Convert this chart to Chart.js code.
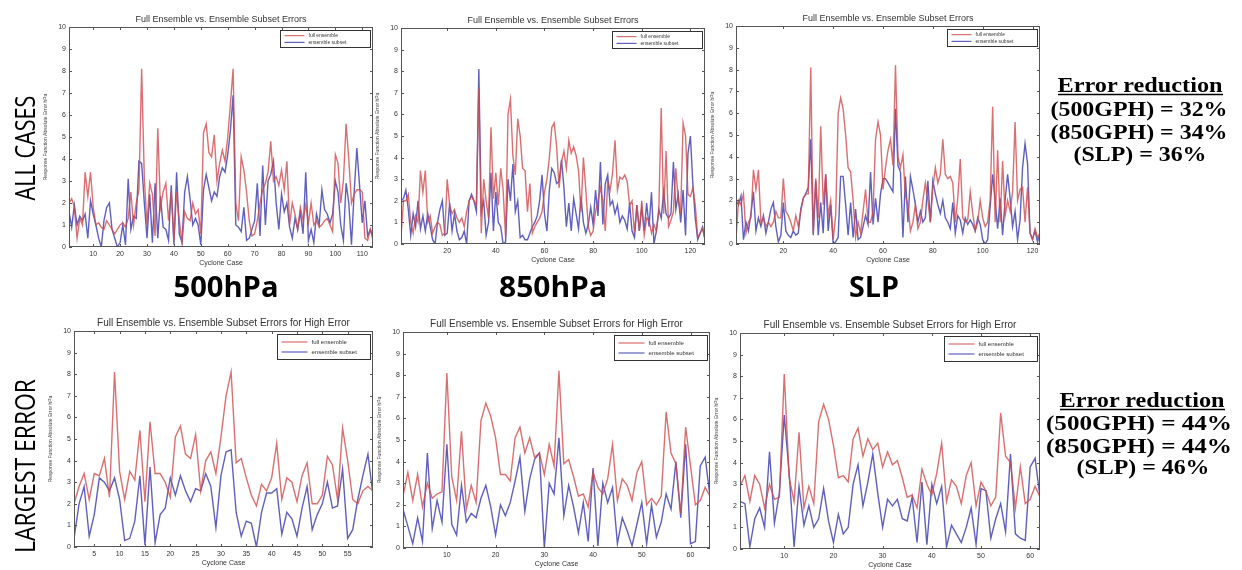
<!DOCTYPE html>
<html>
<head>
<meta charset="utf-8">
<script src="https://cdn.jsdelivr.net/npm/chart.js@4.4.1/dist/chart.umd.min.js"></script>
<style>
body { margin: 0; background: #fff; width: 1242px; height: 570px; overflow: hidden; position: relative; }
.box { position: absolute; }
svg { position: absolute; left: 0; top: 0; }
</style>
</head>
<body>
<div class="box" id="b0"><canvas id="c0"></canvas></div>
<div class="box" id="b1"><canvas id="c1"></canvas></div>
<div class="box" id="b2"><canvas id="c2"></canvas></div>
<div class="box" id="b3"><canvas id="c3"></canvas></div>
<div class="box" id="b4"><canvas id="c4"></canvas></div>
<div class="box" id="b5"><canvas id="c5"></canvas></div>

<svg width="1242" height="570">
  <g font-family="'Open Sans', sans-serif" fill="#000">
    <text transform="translate(35,148) rotate(-90)" text-anchor="middle" font-size="28" textLength="105" lengthAdjust="spacingAndGlyphs">ALL CASES</text>
    <text transform="translate(35,466) rotate(-90)" text-anchor="middle" font-size="28" textLength="174" lengthAdjust="spacingAndGlyphs">LARGEST ERROR</text>
    <text x="226" y="297" text-anchor="middle" font-size="29" font-weight="bold" textLength="105" lengthAdjust="spacingAndGlyphs">500hPa</text>
    <text x="553" y="297" text-anchor="middle" font-size="29" font-weight="bold" textLength="108" lengthAdjust="spacingAndGlyphs">850hPa</text>
    <text x="874" y="297" text-anchor="middle" font-size="29" font-weight="bold" textLength="50" lengthAdjust="spacingAndGlyphs">SLP</text>
  </g>
  <g font-family="'Liberation Serif', 'Times New Roman', serif" font-weight="bold" font-size="20" fill="#000" text-anchor="middle">
    <text x="1140" y="92" textLength="165" lengthAdjust="spacingAndGlyphs">Error reduction</text>
    <line x1="1058" y1="94.5" x2="1223" y2="94.5" stroke="#000" stroke-width="1.5"/>
    <text x="1139" y="116" textLength="177" lengthAdjust="spacingAndGlyphs">(500GPH) = 32%</text>
    <text x="1139" y="139" textLength="177" lengthAdjust="spacingAndGlyphs">(850GPH) = 34%</text>
    <text x="1140" y="161" textLength="133" lengthAdjust="spacingAndGlyphs">(SLP) = 36%</text>
    <text x="1142" y="407" textLength="165" lengthAdjust="spacingAndGlyphs">Error reduction</text>
    <line x1="1060" y1="409.5" x2="1225" y2="409.5" stroke="#000" stroke-width="1.5"/>
    <text x="1139" y="430" textLength="186" lengthAdjust="spacingAndGlyphs">(500GPH) = 44%</text>
    <text x="1139" y="453" textLength="186" lengthAdjust="spacingAndGlyphs">(850GPH) = 44%</text>
    <text x="1143" y="474" textLength="133" lengthAdjust="spacingAndGlyphs">(SLP) = 46%</text>
  </g>
</svg>

<script>
// x tick labels
const ticksTopLeft = [10, 20, 30, 40, 50, 60, 70, 80, 90, 100, 110];
const ticksTopMid = [20, 40, 60, 80, 100, 120];
const ticksTopRight = [20, 40, 60, 80, 100, 120];
const ticksBotLeft = [5, 10, 15, 20, 25, 30, 35, 40, 45, 50, 55];
const ticksBotMid = [10, 20, 30, 40, 50, 60];
const ticksBotRight = [10, 20, 30, 40, 50, 60];

// all cases, 500 hPa
const full500 = [2.0, 2.2, 1.8, 0.4, 1.3, 1.0, 3.4, 2.3, 3.4, 1.8,
  1.0, 1.1, 0.9, 0.8, 1.2, 1.0, 0.8, 0.6, 0.8, 1.0,
  1.1, 0.9, 1.3, 2.5, 1.0, 2.0, 2.6, 8.1, 3.1, 1.0,
  2.9, 2.4, 0.5, 5.4, 1.8, 2.5, 2.9, 1.2, 2.5, 0.3,
  2.5, 1.2, 0.2, 1.6, 1.3, 1.2, 2.0, 1.5, 1.7, 0.6,
  5.2, 5.6, 4.3, 4.1, 5.1, 3.0, 3.8, 4.4, 3.9, 5.0,
  6.5, 8.1, 2.0, 1.2, 4.1, 3.5, 2.5, 1.2, 0.5, 0.6,
  1.2, 2.0, 2.6, 2.9, 3.4, 4.8, 3.0, 3.2, 2.8, 3.5,
  2.6, 3.9, 1.0, 2.0, 1.5, 0.8, 1.8, 1.2, 1.9, 1.1,
  2.0, 1.0, 1.2, 0.9, 1.0, 1.2, 1.3, 1.0, 0.7, 4.2,
  3.8, 2.0, 3.0, 5.6, 4.0, 2.0, 2.4, 2.6, 2.6, 2.5,
  0.4, 0.3, 0.8, 0.3];
const sub500 = [1.6, 0.9, 1.9, 1.0, 1.4, 1.2, 1.5, 0.4, 2.1, 1.5,
  1.0, 0.4, 0.0, 1.2, 1.8, 2.0, 0.8, 0.4, 0.0, 0.2,
  1.0, 0.1, 3.1, 0.8, 1.4, 1.3, 3.9, 3.8, 2.0, 0.4,
  2.4, 0.2, 2.9, 0.4, 2.3, 0.9, 0.8, 0.3, 2.8, 0.1,
  3.4, 0.6, 0.2, 2.5, 3.2, 2.2, 1.0, 1.3, 1.0, 0.1,
  2.6, 3.3, 2.7, 2.1, 2.5, 2.3, 3.2, 3.6, 3.4, 4.2,
  5.3, 6.9, 1.0, 0.9, 0.7, 1.8, 0.3, 0.4, 0.8, 1.2,
  2.9, 0.5, 3.7, 1.0, 3.0, 3.3, 3.9, 2.0, 0.8, 2.4,
  1.6, 2.0, 0.9, 0.4, 1.3, 0.8, 1.6, 0.6, 3.4, 0.3,
  0.8, 0.2, 1.5, 1.0, 2.6, 1.7, 1.5, 1.1, 1.5, 3.0,
  2.5, 1.0, 0.3, 2.9, 2.0, 0.1, 2.5, 4.5, 2.8, 1.1,
  2.1, 0.5, 0.8, 0.5];

// all cases, 850 hPa
const full850 = [0.3, 2.0, 2.0, 2.3, 1.0, 0.5, 1.3, 1.0, 3.4, 2.4,
  3.4, 1.0, 1.3, 0.5, 0.8, 1.0, 0.9, 0.4, 0.5, 3.0,
  1.8, 1.4, 1.6, 1.2, 1.0, 1.2, 0.8, 1.5, 2.0, 2.2,
  2.0, 1.8, 7.2, 0.5, 3.0, 2.0, 1.2, 5.4, 2.1, 3.3,
  1.8, 3.5, 2.5, 0.3, 6.0, 6.7, 4.1, 3.2, 5.8, 5.0,
  3.5, 3.4, 1.5, 2.8, 0.5, 0.8, 1.0, 1.2, 1.5, 2.4,
  3.0, 4.0, 5.4, 5.6, 4.5, 2.6, 3.8, 4.3, 3.5, 4.8,
  4.2, 4.5, 4.1, 3.4, 1.5, 4.0, 2.5, 0.8, 0.4, 0.6,
  1.5, 2.0, 2.6, 2.0, 0.6, 2.9, 2.5, 3.3, 4.8, 2.5,
  3.1, 3.0, 3.2, 2.9, 1.8, 2.0, 0.5, 1.8, 0.6, 2.0,
  0.4, 1.2, 1.1, 0.5, 0.9, 0.6, 1.5, 6.3, 1.4, 4.3,
  0.8, 1.1, 1.5, 3.5, 2.0, 1.5, 5.6, 5.0, 2.3, 2.2,
  2.6, 1.8, 0.3, 0.5, 0.7, 0.2];
const sub850 = [2.0, 2.1, 2.5, 1.6, 0.4, 1.4, 0.8, 2.0, 0.7, 1.3,
  0.6, 1.4, 0.8, 0.2, 0.0, 1.0, 1.6, 2.0, 0.4, 0.5,
  1.9, 0.6, 1.4, 0.6, 0.2, 0.3, 0.6, 0.0, 2.0, 2.3,
  2.0, 1.5, 8.1, 1.5, 2.0, 0.4, 1.0, 3.3, 0.6, 2.4,
  1.0, 0.8, 0.0, 0.1, 3.0, 2.0, 3.7, 1.5, 2.0, 0.3,
  0.4, 0.2, 0.2, 0.5, 0.8, 1.0, 1.3, 2.0, 3.2, 1.4,
  0.6, 2.5, 3.5, 3.3, 2.8, 2.9, 3.9, 2.6, 0.8, 1.9,
  0.6, 2.1, 1.4, 0.7, 2.2, 1.0, 0.5, 0.9, 1.7, 0.9,
  2.5, 1.3, 3.8, 0.9, 2.8, 3.2, 1.8, 2.0, 1.4, 1.8,
  1.0, 1.3, 1.1, 0.7, 1.9, 0.6, 0.3, 1.8, 0.6, 1.7,
  0.6, 1.9, 0.8, 2.4, 0.0, 0.6, 1.6, 1.2, 2.4, 1.4,
  1.2, 1.4, 3.8, 1.6, 2.3, 1.0, 2.5, 0.4, 4.2, 5.0,
  2.8, 1.2, 0.2, 0.5, 0.8, 0.2];

// all cases, SLP
const fullSlp = [0.2, 2.0, 1.8, 2.3, 0.5, 1.0, 1.2, 3.4, 2.5, 3.4,
  1.0, 1.2, 0.8, 1.0, 0.8, 1.0, 1.5, 1.2, 1.2, 3.0,
  1.5, 1.3, 1.0, 0.6, 1.3, 0.8, 1.5, 2.1, 2.3, 2.3,
  8.1, 0.5, 3.0, 1.2, 5.4, 1.8, 3.2, 1.3, 2.0, 0.2,
  1.3, 6.0, 6.7, 6.2, 5.0, 3.5, 3.3, 2.0, 0.3, 1.0,
  0.5, 1.5, 2.5, 1.0, 1.0, 1.5, 4.8, 5.6, 5.0, 2.5,
  3.5, 4.3, 4.8, 3.6, 8.2, 4.0, 3.5, 4.1, 2.2, 1.8,
  0.6, 1.0, 1.8, 0.7, 1.0, 2.0, 2.8, 2.0, 1.0, 2.6,
  3.5, 2.8, 3.2, 4.8, 3.2, 3.0, 3.1, 2.8, 1.0, 2.1,
  3.9, 1.2, 1.0, 1.1, 2.4, 1.4, 0.6, 1.0, 2.0, 1.2,
  0.8, 1.0, 2.0, 6.3, 1.0, 4.3, 1.0, 3.8, 1.3, 2.0,
  1.5, 2.4, 5.6, 2.0, 2.5, 2.6, 1.0, 2.6, 0.5, 0.2,
  0.7, 0.3, 0.5];
const subSlp = [2.0, 1.8, 2.2, 0.2, 1.0, 0.6, 1.4, 2.4, 0.6, 1.2,
  0.8, 1.3, 0.5, 1.0, 1.6, 1.9, 0.8, 0.1, 0.4, 1.9,
  0.6, 0.4, 0.3, 0.6, 0.4, 0.5, 1.6, 2.1, 2.3, 2.6,
  4.8, 0.4, 2.9, 0.4, 1.9, 0.5, 3.2, 0.6, 1.8, 0.0,
  0.1, 0.3, 3.1, 3.1, 1.8, 0.4, 1.9, 0.3, 1.6, 0.2,
  0.3, 0.8, 1.3, 0.9, 3.3, 0.9, 2.1, 1.0, 2.3, 3.0,
  3.0, 2.8, 2.6, 2.4, 6.2, 3.6, 3.3, 0.3, 3.1, 1.0,
  3.1, 2.5, 1.8, 1.0, 1.5, 1.0, 1.2, 2.9, 1.0, 2.9,
  2.3, 1.8, 1.4, 2.0, 1.2, 1.0, 0.7, 1.9, 0.5, 1.3,
  1.1, 0.5, 1.2, 0.9, 1.1, 0.9, 0.6, 1.2, 0.9, 0.2,
  0.0, 0.2, 1.7, 3.2, 2.0, 0.7, 2.1, 0.4, 2.0, 3.2,
  2.1, 0.8, 1.5, 0.2, 1.1, 3.5, 4.6, 3.7, 0.5, 0.2,
  0.6, 0.1, 0.5];

// largest error, 500 hPa
const fullHi500 = [2.0, 2.8, 3.4, 2.2, 3.4, 3.3, 4.1, 2.3, 8.1, 3.5,
  2.2, 3.5, 3.1, 5.4, 2.1, 5.8, 3.4, 3.4, 3.0, 2.3,
  5.1, 5.6, 4.3, 4.1, 5.2, 2.6, 4.0, 4.4, 3.4, 5.1,
  7.0, 8.1, 3.9, 4.1, 3.2, 2.4, 1.9, 2.9, 2.6, 3.2,
  4.8, 2.2, 3.2, 3.0, 2.1, 3.3, 3.9, 2.0, 2.0, 2.4,
  4.2, 3.8, 2.2, 5.5, 4.0, 2.2, 2.0, 2.6, 2.8, 2.6];
const subHi500 = [0.4, 2.0, 2.8, 0.5, 1.5, 3.2, 3.0, 2.6, 3.2, 2.2,
  0.3, 0.4, 1.2, 3.3, 0.1, 3.7, 0.2, 1.5, 1.8, 3.2,
  2.4, 3.3, 2.6, 2.1, 2.7, 2.6, 3.4, 2.8, 0.9, 3.3,
  4.4, 4.5, 1.6, 0.5, 1.2, 1.1, 0.0, 1.6, 2.5, 2.5,
  2.7, 0.6, 1.6, 1.3, 0.5, 1.8, 2.8, 0.8, 1.5, 2.0,
  3.0, 1.8, 1.9, 3.6, 0.4, 0.8, 2.2, 3.3, 4.3, 2.4];

// largest error, 850 hPa
const fullHi850 = [2.4, 3.5, 2.2, 3.4, 1.9, 3.0, 2.3, 2.5, 2.6, 8.1,
  3.3, 2.2, 5.4, 1.8, 2.9, 2.1, 5.9, 6.7, 6.1, 5.1,
  3.4, 3.4, 3.1, 5.1, 5.6, 4.4, 5.1, 4.2, 4.4, 3.4,
  4.8, 3.8, 8.2, 3.9, 4.1, 3.3, 2.4, 2.5, 1.9, 3.5,
  2.8, 2.5, 3.2, 4.8, 2.2, 3.2, 2.9, 2.2, 3.5, 4.0,
  2.0, 2.3, 2.0, 2.4, 6.3, 4.4, 3.9, 1.6, 5.6, 3.8,
  2.0, 2.2, 2.8, 2.4];
const subHi850 = [1.8, 1.0, 0.2, 1.4, 0.3, 4.4, 0.9, 2.2, 1.2, 4.8,
  1.1, 0.6, 2.9, 1.2, 1.6, 1.4, 2.3, 2.9, 1.9, 0.6,
  2.0, 1.5, 2.1, 3.1, 4.2, 1.7, 3.2, 4.1, 4.4, 0.0,
  3.0, 2.5, 5.1, 1.5, 2.9, 1.9, 0.7, 2.1, 0.3, 3.7,
  0.1, 3.0, 2.1, 2.8, 0.2, 1.4, 0.8, 0.1, 1.1, 2.1,
  0.2, 2.0, 0.5, 1.2, 2.5, 1.8, 4.0, 1.4, 4.8, 0.2,
  0.3, 3.8, 4.2, 2.4];

// largest error, SLP
const fullHiSlp = [2.9, 3.4, 2.2, 3.4, 3.0, 1.9, 3.0, 2.3, 2.4, 8.1,
  3.3, 2.2, 5.4, 1.9, 2.9, 2.1, 5.9, 6.7, 6.0, 4.8,
  3.3, 3.4, 3.1, 5.1, 5.6, 4.3, 5.1, 4.6, 4.9, 3.8,
  4.5, 3.9, 4.1, 3.3, 2.4, 2.5, 1.9, 3.7, 3.0, 2.5,
  3.5, 4.9, 2.2, 3.2, 2.9, 2.1, 3.4, 4.0, 2.0, 3.1,
  2.7, 2.0, 2.4, 6.3, 4.3, 4.0, 1.9, 3.8, 2.1, 2.3,
  2.9, 2.4];
const subHiSlp = [2.2, 2.1, 0.1, 1.4, 1.9, 1.0, 4.5, 1.2, 2.6, 6.2,
  3.5, 0.1, 2.9, 1.1, 2.0, 1.0, 1.4, 2.8, 1.3, 0.3,
  1.6, 0.7, 1.0, 3.0, 3.9, 2.0, 3.1, 4.4, 2.6, 1.0,
  2.3, 2.0, 2.3, 1.4, 1.3, 2.4, 0.3, 3.1, 0.2, 3.0,
  2.1, 2.9, 0.1, 1.1, 0.7, 0.3, 1.0, 1.9, 0.2, 2.8,
  2.7, 0.5, 1.4, 2.1, 0.8, 4.4, 0.7, 0.5, 0.4, 3.8,
  4.2, 2.4];

const titleAll = 'Full Ensemble vs. Ensemble Subset Errors';
const titleHigh = 'Full Ensemble vs. Ensemble Subset Errors for High Error';
const yLabel = 'Response Function Absolute Error hPa';
const xLabel = 'Cyclone Case';

const YW = 26, TH = 16, RP = 6, XH = 20;

// draws the matlab-like box, inner ticks, title and legend
const matlabFrame = {
  id: 'matlabFrame',
  afterDatasetsDraw(chart, args, o) {
    const ctx = chart.ctx;
    const a = chart.chartArea;
    const x = chart.scales.x, y = chart.scales.y;
    ctx.save();
    ctx.strokeStyle = '#555';
    ctx.lineWidth = 1;
    ctx.strokeRect(Math.round(a.left) + 0.5, Math.round(a.top) + 0.5,
      Math.round(a.right - a.left) - 1, Math.round(a.bottom - a.top) - 1);
    ctx.beginPath();
    x.ticks.forEach(t => {
      const px = Math.round(x.getPixelForValue(t.value)) + 0.5;
      ctx.moveTo(px, a.bottom); ctx.lineTo(px, a.bottom - 3);
      ctx.moveTo(px, a.top); ctx.lineTo(px, a.top + 3);
    });
    y.ticks.forEach(t => {
      const py = Math.round(y.getPixelForValue(t.value)) + 0.5;
      ctx.moveTo(a.left, py); ctx.lineTo(a.left + 3, py);
      ctx.moveTo(a.right, py); ctx.lineTo(a.right - 3, py);
    });
    ctx.stroke();

    ctx.fillStyle = '#333';
    ctx.font = o.titleSize + 'px "Liberation Sans", Arial, sans-serif';
    ctx.textAlign = 'center';
    ctx.textBaseline = 'alphabetic';
    ctx.fillText(o.title, (a.left + a.right) / 2, a.top - 5);

    // legend box
    const w = o.big ? 93 : 90, h = o.big ? 25 : 17;
    const bx = Math.round(a.right - 3 - w) + 0.5, by = Math.round(a.top + 3) + 0.5;
    ctx.fillStyle = '#fff';
    ctx.fillRect(bx, by, w, h);
    ctx.strokeStyle = '#333';
    ctx.strokeRect(bx, by, w, h);
    ctx.font = (o.big ? 6 : 5) + 'px "Liberation Sans", Arial, sans-serif';
    ctx.textAlign = 'left';
    ctx.textBaseline = 'middle';
    chart.data.datasets.forEach((ds, i) => {
      const ry = by + h * (i === 0 ? 0.3 : 0.7);
      ctx.strokeStyle = ds.borderColor;
      ctx.lineWidth = 1.2;
      ctx.beginPath();
      ctx.moveTo(bx + 4, ry); ctx.lineTo(bx + (o.big ? 30 : 24), ry);
      ctx.stroke();
      ctx.fillStyle = '#333';
      ctx.fillText(ds.label, bx + (o.big ? 34 : 28), ry);
    });
    ctx.restore();
  }
};

function toPoints(arr) {
  return arr.map((v, i) => ({ x: i + 1, y: v }));
}

function panel(n, area, title, big, xTicks, full, sub) {
  const div = document.getElementById('b' + n);
  const cv = document.getElementById('c' + n);
  const W = area[2] + YW + RP, H = area[3] + TH + XH;
  div.style.left = (area[0] - YW) + 'px';
  div.style.top = (area[1] - TH) + 'px';
  cv.width = W; cv.height = H;
  cv.style.width = W + 'px'; cv.style.height = H + 'px';

  new Chart(cv, {
    type: 'line',
    data: {
      datasets: [
        { label: 'full ensemble', data: toPoints(full), borderColor: 'rgba(210,75,75,0.8)', borderWidth: 1.4, pointRadius: 0, tension: 0 },
        { label: 'ensemble subset', data: toPoints(sub), borderColor: 'rgba(55,55,175,0.8)', borderWidth: 1.4, pointRadius: 0, tension: 0 }
      ]
    },
    options: {
      responsive: false,
      animation: false,
      layout: { padding: { top: TH, right: RP, left: 0, bottom: 0 } },
      plugins: {
        legend: { display: false },
        tooltip: { enabled: false },
        matlabFrame: { title: title, titleSize: big ? 10 : 9, big: big }
      },
      scales: {
        x: {
          type: 'linear',
          min: 1,
          max: full.length,
          afterBuildTicks: s => { s.ticks = xTicks.map(v => ({ value: v })); },
          afterFit: s => { s.height = XH; },
          grid: { display: false, drawTicks: false },
          border: { display: false },
          ticks: { font: { size: 7, family: 'Liberation Sans' }, color: '#333', padding: 3, maxRotation: 0, autoSkip: false },
          title: { display: true, text: xLabel, font: { size: 7, family: 'Liberation Sans' }, color: '#333', padding: 0 }
        },
        y: {
          min: 0,
          max: 10,
          afterFit: s => { s.width = YW; },
          grid: { display: false, drawTicks: false },
          border: { display: false },
          ticks: { stepSize: 1, font: { size: 7, family: 'Liberation Sans' }, color: '#333', padding: 3 },
          title: { display: true, text: yLabel, font: { size: 5, family: 'Liberation Sans' }, color: '#444', padding: 0 }
        }
      }
    },
    plugins: [matlabFrame]
  });
}

panel(0, [69, 27, 304, 220], titleAll, false, ticksTopLeft, full500, sub500);
panel(1, [401, 28, 304, 216], titleAll, false, ticksTopMid, full850, sub850);
panel(2, [736, 26, 304, 218], titleAll, false, ticksTopRight, fullSlp, subSlp);
panel(3, [74, 331, 299, 216], titleHigh, true, ticksBotLeft, fullHi500, subHi500);
panel(4, [403, 332, 307, 216], titleHigh, true, ticksBotMid, fullHi850, subHi850);
panel(5, [740, 333, 300, 216], titleHigh, true, ticksBotRight, fullHiSlp, subHiSlp);
</script>
</body>
</html>
